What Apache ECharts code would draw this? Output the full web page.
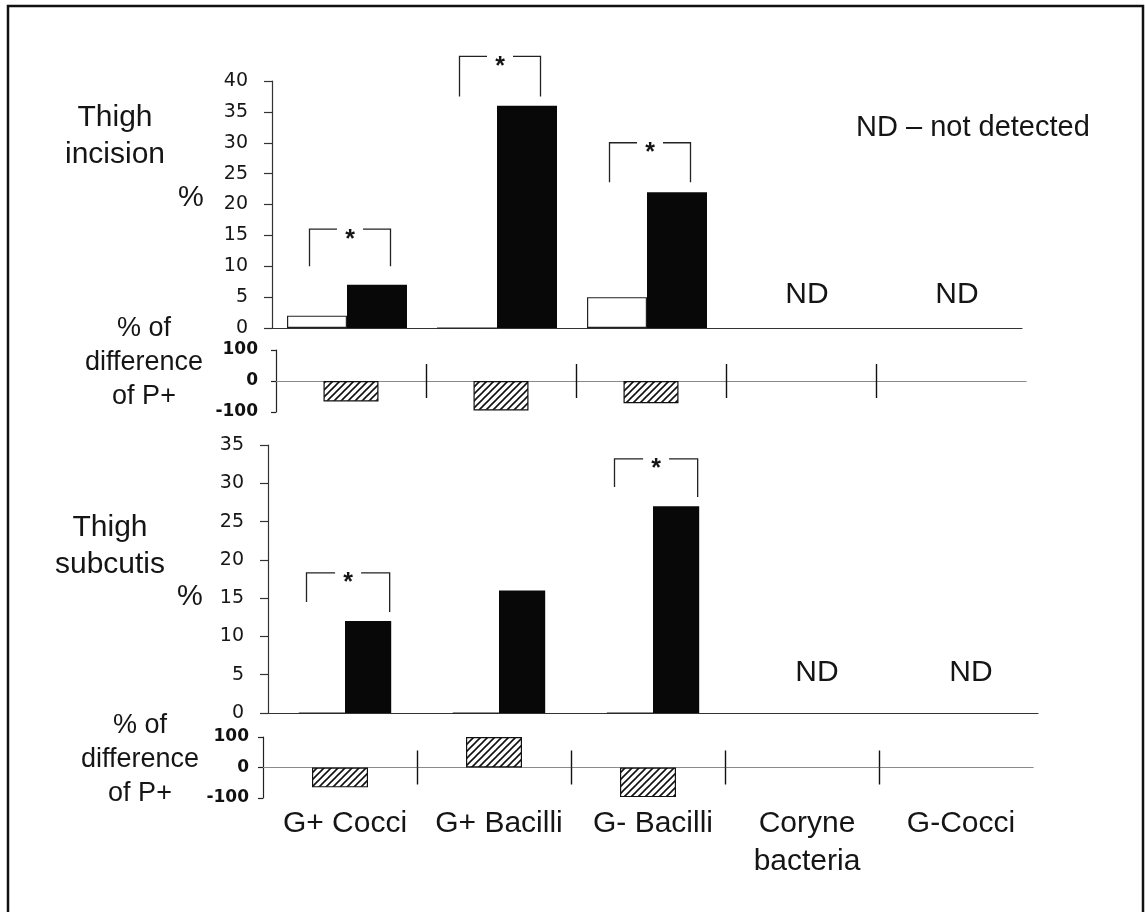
<!DOCTYPE html>
<html>
<head>
<meta charset="utf-8">
<script src="https://cdn.jsdelivr.net/npm/echarts@6/dist/echarts.min.js"></script>
<style>
  html, body { margin: 0; padding: 0; background: #fff; }
  #chart { width: 1145px; height: 912px; }
</style>
</head>
<body>
<div id="chart"></div>
<script>
var categories = ['G+ Cocci', 'G+ Bacilli', 'G- Bacilli', 'Coryne\nbacteria', 'G-Cocci']

// Thigh incision (null = not detected)
var incisionOpen = [2, 0, 5, null, null]
var incisionSolid = [7, 36, 22, null, null]
var incisionDiff = [-66, -95, -72, null, null]
var incisionTicks = [0, 5, 10, 15, 20, 25, 30, 35, 40]
// [category, bracket top, left leg end, right leg end]
var incisionStars = [[0, 16, 10, 10], [1, 44, 37.5, 37.5], [2, 30, 23.6, 23.6]]

// Thigh subcutis
var subcutisOpen = [0, 0, 0, null, null]
var subcutisSolid = [12, 16, 27, null, null]
var subcutisDiff = [-65, 100, -97, null, null]
var subcutisTicks = [0, 5, 10, 15, 20, 25, 30, 35]
var subcutisStars = [[0, 18.3, 14.5, 13.2], [2, 33.2, 29.5, 28.2]]

var diffTicks = [-100, 0, 100]

var ink = '#151515'
var sans = 'Liberation Sans, Arial, sans-serif'

function hatch() {
  var c = document.createElement('canvas')
  c.width = 7
  c.height = 7
  var g = c.getContext('2d')
  g.fillStyle = '#fff'
  g.fillRect(0, 0, 7, 7)
  g.strokeStyle = '#111'
  g.lineWidth = 1.6
  g.beginPath()
  g.moveTo(-1, 8); g.lineTo(8, -1)
  g.moveTo(-1, 1); g.lineTo(1, -1)
  g.moveTo(6, 8); g.lineTo(8, 6)
  g.stroke()
  return c
}
var hatchFill = { image: hatch(), repeat: 'repeat' }

function notDetected(solid) {
  var out = []
  solid.forEach(function (v, i) {
    if (v == null) out.push([i, 0])
  })
  return out
}

function bracketItem(params, api) {
  var c = api.coord([api.value(0), api.value(1)])
  var band = api.size([1, 0])[0]
  var xl = c[0] - band * 0.25
  var xr = c[0] + band * 0.29
  var xm = (xl + xr) / 2
  var y = c[1]
  var yl = api.coord([api.value(0), api.value(2)])[1]
  var yr = api.coord([api.value(0), api.value(3)])[1]
  var st = { stroke: '#222', lineWidth: 1.3, fill: null }
  return {
    type: 'group',
    children: [
      { type: 'polyline', shape: { points: [[xl, yl], [xl, y], [xm - 13, y]] }, style: st },
      { type: 'polyline', shape: { points: [[xm + 13, y], [xr, y], [xr, yr]] }, style: st },
      {
        type: 'text',
        style: {
          text: '*', x: xm, y: y - 2, font: 'bold 25px ' + sans, fill: ink,
          align: 'center', verticalAlign: 'top', textAlign: 'center', textVerticalAlign: 'top'
        }
      }
    ]
  }
}

function ndItem(lift) {
  return function (params, api) {
    var p = api.coord([api.value(0), 0])
    return {
      type: 'text',
      style: {
        text: 'ND', x: p[0] + 10, y: p[1] - lift, font: '30px ' + sans, fill: ink,
        align: 'center', verticalAlign: 'middle', textAlign: 'center', textVerticalAlign: 'middle'
      }
    }
  }
}

function mainY(grid, ticks) {
  return {
    type: 'value',
    gridIndex: grid,
    min: ticks[0],
    max: ticks[ticks.length - 1],
    interval: ticks[1] - ticks[0],
    axisLine: { show: true, lineStyle: { color: '#333', width: 1.2 } },
    axisTick: { show: true, length: 8, lineStyle: { color: '#333', width: 1.2 } },
    axisLabel: { margin: 24, fontSize: 19, fontFamily: 'DejaVu Sans', color: '#161616' },
    splitLine: { show: false }
  }
}

function diffY(grid, margin) {
  return {
    type: 'value',
    gridIndex: grid,
    min: diffTicks[0],
    max: diffTicks[diffTicks.length - 1],
    interval: diffTicks[1] - diffTicks[0],
    axisLine: { show: true, lineStyle: { color: '#222', width: 1.2 } },
    axisTick: { show: true, length: 5, lineStyle: { color: '#222', width: 1.2 } },
    axisLabel: { margin: margin, fontSize: 17, fontWeight: 'bold', fontFamily: 'DejaVu Sans', color: '#111' },
    splitLine: { show: false }
  }
}

function diffX(grid, yIndex, inside) {
  return {
    type: 'value',
    gridIndex: grid,
    position: 'bottom',
    min: 0,
    max: categories.length,
    axisLine: { show: true, onZero: true, onZeroAxisIndex: yIndex, lineStyle: { color: '#8a8a8a', width: 1 } },
    axisTick: {
      show: true, inside: inside, length: 17,
      customValues: categories.slice(1).map(function (c, i) { return i + 1 }),
      lineStyle: { color: '#111', width: 1.4 }
    },
    axisLabel: { show: false },
    splitLine: { show: false }
  }
}

function diffData(arr) {
  return arr.map(function (v, i) { return v == null ? [i + 0.5, null] : [i + 0.5, v] })
}

function txt(x, y, s, size) {
  return {
    type: 'text', x: x, y: y,
    style: {
      text: s, font: size + 'px ' + sans, fill: ink, lineHeight: size + 7,
      align: 'center', verticalAlign: 'middle', textAlign: 'center', textVerticalAlign: 'middle'
    }
  }
}

var chart = echarts.init(document.getElementById('chart'))

var option = {
  animation: false,
  backgroundColor: '#fff',
  grid: [
    { left: 272, top: 81, width: 750, height: 247 },
    { left: 276, top: 350, width: 750, height: 62 },
    { left: 268, top: 445, width: 770, height: 268 },
    { left: 263, top: 737, width: 770, height: 61 }
  ],
  xAxis: [
    {
      type: 'category', gridIndex: 0, data: categories, boundaryGap: true,
      axisLine: { lineStyle: { color: '#333', width: 1.2 } },
      axisTick: { length: 5, lineStyle: { color: '#333', width: 1.2 } },
      axisLabel: { show: false }
    },
    diffX(1, 1, true),
    diffX(1, 1, false),
    {
      type: 'category', gridIndex: 2, data: categories, boundaryGap: true,
      axisLine: { lineStyle: { color: '#333', width: 1.2 } },
      axisTick: { length: 5, lineStyle: { color: '#333', width: 1.2 } },
      axisLabel: { margin: 92, fontSize: 30, fontFamily: sans, color: ink, lineHeight: 38, interval: 0 }
    },
    diffX(3, 3, true),
    diffX(3, 3, false)
  ],
  yAxis: [
    mainY(0, incisionTicks),
    diffY(1, 18),
    mainY(2, subcutisTicks),
    diffY(3, 14)
  ],
  series: [
    {
      name: 'incision open', type: 'bar', xAxisIndex: 0, yAxisIndex: 0,
      data: incisionOpen, barGap: '0%', barCategoryGap: '20%',
      itemStyle: { color: '#fff', borderColor: '#222', borderWidth: 1.2 }
    },
    {
      name: 'incision solid', type: 'bar', xAxisIndex: 0, yAxisIndex: 0,
      data: incisionSolid, barGap: '0%', barCategoryGap: '20%',
      itemStyle: { color: '#080808' }
    },
    {
      name: 'incision brackets', type: 'custom', xAxisIndex: 0, yAxisIndex: 0,
      data: incisionStars, renderItem: bracketItem, clip: false, silent: true
    },
    {
      name: 'incision ND', type: 'custom', xAxisIndex: 0, yAxisIndex: 0,
      data: notDetected(incisionSolid), renderItem: ndItem(33), clip: false, silent: true
    },
    {
      name: 'incision diff', type: 'bar', xAxisIndex: 1, yAxisIndex: 1,
      data: diffData(incisionDiff), barWidth: 55,
      itemStyle: { color: hatchFill, borderColor: '#111', borderWidth: 1.2 }
    },
    {
      name: 'subcutis open', type: 'bar', xAxisIndex: 3, yAxisIndex: 2,
      data: subcutisOpen, barGap: '0%', barCategoryGap: '40%',
      itemStyle: { color: '#fff', borderColor: '#222', borderWidth: 1.2 }
    },
    {
      name: 'subcutis solid', type: 'bar', xAxisIndex: 3, yAxisIndex: 2,
      data: subcutisSolid, barGap: '0%', barCategoryGap: '40%',
      itemStyle: { color: '#080808' }
    },
    {
      name: 'subcutis brackets', type: 'custom', xAxisIndex: 3, yAxisIndex: 2,
      data: subcutisStars, renderItem: bracketItem, clip: false, silent: true
    },
    {
      name: 'subcutis ND', type: 'custom', xAxisIndex: 3, yAxisIndex: 2,
      data: notDetected(subcutisSolid), renderItem: ndItem(40), clip: false, silent: true
    },
    {
      name: 'subcutis diff', type: 'bar', xAxisIndex: 4, yAxisIndex: 3,
      data: diffData(subcutisDiff), barWidth: 56,
      itemStyle: { color: hatchFill, borderColor: '#111', borderWidth: 1.2 }
    }
  ],
  graphic: [
    {
      type: 'rect', shape: { x: 8, y: 6, width: 1135, height: 930 },
      style: { fill: null, stroke: '#111', lineWidth: 2.5 }, silent: true
    },
    txt(115, 136, 'Thigh\nincision', 30),
    txt(191, 198, '%', 29),
    txt(144, 363, '% of\ndifference\nof P+', 27),
    txt(110, 546, 'Thigh\nsubcutis', 30),
    txt(190, 597, '%', 29),
    txt(140, 760, '% of\ndifference\nof P+', 27),
    {
      type: 'text', x: 856, y: 128,
      style: {
        text: 'ND \u2013 not detected', font: '29px ' + sans, fill: ink,
        align: 'left', verticalAlign: 'middle', textAlign: 'left', textVerticalAlign: 'middle'
      }
    }
  ]
}

chart.setOption(option)
</script>
</body>
</html>
